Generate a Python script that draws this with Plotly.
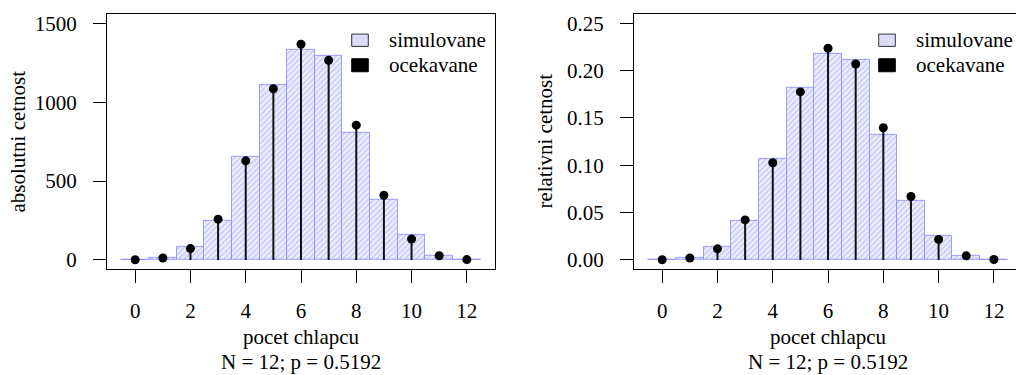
import plotly.graph_objects as go

# ---- data ----
k_values = [0, 1, 2, 3, 4, 5, 6, 7, 8, 9, 10, 11, 12]
sim_abs = [1, 12, 85, 250, 653, 1111, 1334, 1292, 807, 381, 156, 27, 2]
exp_abs = [0.9, 12.1, 71.8, 258.6, 628.2, 1085.4, 1367.4, 1265.7, 854.3, 410.0, 132.8, 26.1, 2.3]
sim_rel = [0.0002, 0.0020, 0.0139, 0.0409, 0.1068, 0.1817, 0.2182, 0.2113, 0.1320, 0.0623, 0.0255, 0.0044, 0.0003]
exp_rel = [0.0002, 0.0020, 0.0117, 0.0423, 0.1027, 0.1775, 0.2236, 0.2070, 0.1397, 0.0670, 0.0217, 0.0043, 0.0004]
xticks = [0, 2, 4, 6, 8, 10, 12]
yticks_abs = [0, 500, 1000, 1500]
yticks_rel = [0, 0.05, 0.10, 0.15, 0.20, 0.25]
yticklabels_rel = ["0.00", "0.05", "0.10", "0.15", "0.20", "0.25"]
legend_labels = ["simulovane", "ocekavane"]
ytitles = ["absolutni cetnost", "relativni cetnost"]
xtitle = "pocet chlapcu"
subtitle = "N = 12; p = 0.5192"

W, H = 1016, 375
FONT = "Liberation Serif"
FS = 21
BAR_BG = "#ececff"
BAR_FG = "#c4c4f2"
BAR_LINE = "rgba(130,130,255,0.75)"

fig = go.Figure()

def add_panel(xa, ya, sim, exp):
    fig.add_trace(go.Bar(
        x=k_values, y=sim, width=1, xaxis=xa, yaxis=ya,
        marker=dict(color=BAR_BG,
                    line=dict(color=BAR_LINE, width=1),
                    pattern=dict(shape="/", fgcolor=BAR_FG, bgcolor=BAR_BG,
                                 size=4, solidity=0.3, fillmode="replace")),
        showlegend=False, hoverinfo="skip"))
    fig.add_trace(go.Scatter(
        x=k_values, y=exp, mode="markers", xaxis=xa, yaxis=ya,
        marker=dict(color="black", size=9),
        error_y=dict(type="data", symmetric=False, array=[0] * len(exp),
                     arrayminus=exp, width=0, thickness=2, color="#111111"),
        showlegend=False, hoverinfo="skip"))

add_panel("x", "y", sim_abs, exp_abs)
add_panel("x2", "y2", sim_rel, exp_rel)

def px_x(p):
    return p / W

def px_y(p):
    return 1 - p / H

ydom = [px_y(271), px_y(12)]
tfont = dict(family=FONT, size=FS, color="black")
common_x = dict(showline=True, linecolor="black", linewidth=1, mirror=True,
                ticks="outside", ticklen=13, tickcolor="black", tickwidth=1,
                tickvals=xticks, showgrid=False, zeroline=False,
                ticklabelstandoff=9, tickfont=tfont)
common_y = dict(showline=True, linecolor="black", linewidth=1,
                ticks="outside", ticklen=13, tickcolor="black", tickwidth=1,
                showgrid=False, zeroline=False, domain=ydom,
                ticklabelstandoff=12, tickfont=tfont)

fig.update_layout(
    width=W, height=H, margin=dict(l=0, r=0, t=0, b=0),
    font=dict(family=FONT, size=FS, color="black"),
    plot_bgcolor="white", paper_bgcolor="white", bargap=0,
    xaxis=dict(common_x, domain=[px_x(107), px_x(495)], range=[-1.02, 13.02], anchor="y"),
    yaxis=dict(common_y, range=[-60, 1560], tickvals=yticks_abs, mirror=True, anchor="x"),
    xaxis2=dict(common_x, domain=[px_x(634), 1.0], range=[-1.02, 12.80], anchor="y2"),
    yaxis2=dict(common_y, range=[-0.01, 0.26], tickvals=yticks_rel,
                ticktext=yticklabels_rel, mirror=False, anchor="x2"),
)

annotations = []
shapes = []
for i, (left, right) in enumerate([(107, 495), (634, 1022)]):
    cx = (left + right) / 2
    annotations.append(dict(text=xtitle, x=px_x(cx), y=px_y(340),
                            xref="paper", yref="paper", borderpad=0,
                            showarrow=False, xanchor="center", yanchor="middle",
                            font=tfont))
    annotations.append(dict(text=subtitle, x=px_x(cx), y=px_y(364.5),
                            xref="paper", yref="paper", borderpad=0,
                            showarrow=False, xanchor="center", yanchor="middle",
                            font=tfont))
    annotations.append(dict(text=ytitles[i], x=px_x(18 + (left - 107)), y=px_y(141.5),
                            xref="paper", yref="paper", showarrow=False, textangle=-90,
                            xanchor="center", yanchor="middle", font=tfont))
    sx0 = left + 244.7
    sx1 = sx0 + 16.6
    shapes.append(dict(type="rect", xref="paper", yref="paper",
                       x0=px_x(sx0), x1=px_x(sx1), y0=px_y(45), y1=px_y(32.5),
                       fillcolor="#dcdcfa", line=dict(color="#333333", width=1)))
    shapes.append(dict(type="rect", xref="paper", yref="paper",
                       x0=px_x(sx0), x1=px_x(sx1), y0=px_y(70.7), y1=px_y(57.5),
                       fillcolor="black", line=dict(color="black", width=1)))
    for j, yc in enumerate([39, 64]):
        annotations.append(dict(text=legend_labels[j], x=px_x(sx0 + 35), y=px_y(yc),
                                xref="paper", yref="paper", showarrow=False,
                                xanchor="left", yanchor="middle", font=tfont))

fig.update_layout(annotations=annotations, shapes=shapes)
fig.write_html("out.html")
